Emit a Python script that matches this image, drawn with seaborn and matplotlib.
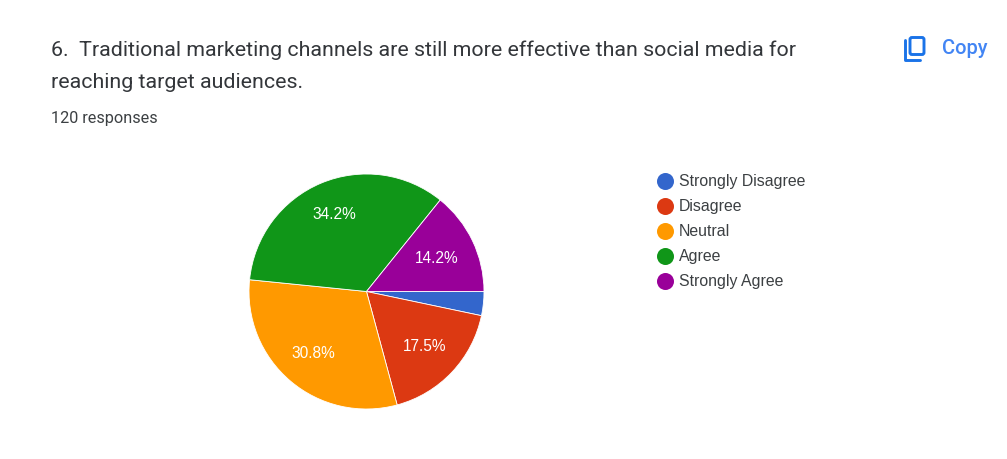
import math
import matplotlib
matplotlib.use("Agg")
import matplotlib.pyplot as plt
from matplotlib.patches import FancyBboxPatch
import seaborn as sns

sns.set_theme(style="white")
plt.rcParams['font.family'] = ['Roboto', 'DejaVu Sans']

labels = ["Strongly Disagree", "Disagree", "Neutral", "Agree", "Strongly Agree"]
shares = [3.3, 17.5, 30.8, 34.2, 14.2]
value_labels = ["", "17.5%", "30.8%", "34.2%", "14.2%"]
colors = ["#3366cc", "#dc3912", "#ff9900", "#109618", "#990099"]
title_lines = ["6.  Traditional marketing channels are still more effective than social media for",
               "reaching target audiences."]

W, H = 1007, 459
ICON = "#1a73e8"
INK = "#3c4043"
SANS = ["Liberation Sans", "DejaVu Sans"]

fig = plt.figure(figsize=(W / 100, H / 100), dpi=100, facecolor="white")
page = fig.add_axes([0, 0, 1, 1])
page.set_xlim(0, W)
page.set_ylim(H, 0)
page.axis("off")

page.text(51, 50, title_lines[0], fontsize=15.43, color="#33363a", va="center", ha="left")
page.text(51, 82, title_lines[1], fontsize=15.43, color="#33363a", va="center", ha="left")
page.text(51, 118, "120 responses", fontsize=11.7, color=INK, va="center", ha="left")

# copy button: a rounded page with an L-shaped page edge behind it
page.add_patch(FancyBboxPatch((910, 37.5), 14, 17, boxstyle="round,pad=0,rounding_size=2",
                              fill=False, ec=ICON, lw=2.1))
page.plot([905, 905, 920], [40, 60, 60], color=ICON, lw=2.1, solid_joinstyle="round")
page.text(942, 48, "Copy", fontsize=14.4, color="#4285f4", va="center", ha="left", fontweight="medium")

cx, cy, r = 366.5, 291.5, 117.5
ax = fig.add_axes([(cx - r) / W, 1 - (cy + r) / H, 2 * r / W, 2 * r / H])
ax.pie(shares, colors=colors, startangle=0, counterclock=False, radius=1,
       wedgeprops=dict(edgecolor="white", linewidth=0.6))
ax.set_xlim(-1, 1)
ax.set_ylim(-1, 1)
ax.set_aspect("equal")

# distance of each percentage from the centre, as a fraction of the radius
label_radius = [0.0, 0.685, 0.695, 0.71, 0.66]
angle = 0.0
for share, text, dist in zip(shares, value_labels, label_radius):
    mid = angle + share / 2 * 3.6
    angle += share * 3.6
    if text:
        ax.text(dist * math.cos(math.radians(-mid)), dist * math.sin(math.radians(-mid)), text,
                color="white", fontsize=11.2, ha="center", va="center", family=SANS)

for i, (name, col) in enumerate(zip(labels, colors)):
    y = 181 + i * 25
    page.scatter([665], [y - 0.5], s=150, color=col, linewidths=0)
    page.text(679, y + 0.5, name, fontsize=11.4, color=INK, va="center", ha="left", family=SANS)

fig.savefig("out.png", dpi=100)
